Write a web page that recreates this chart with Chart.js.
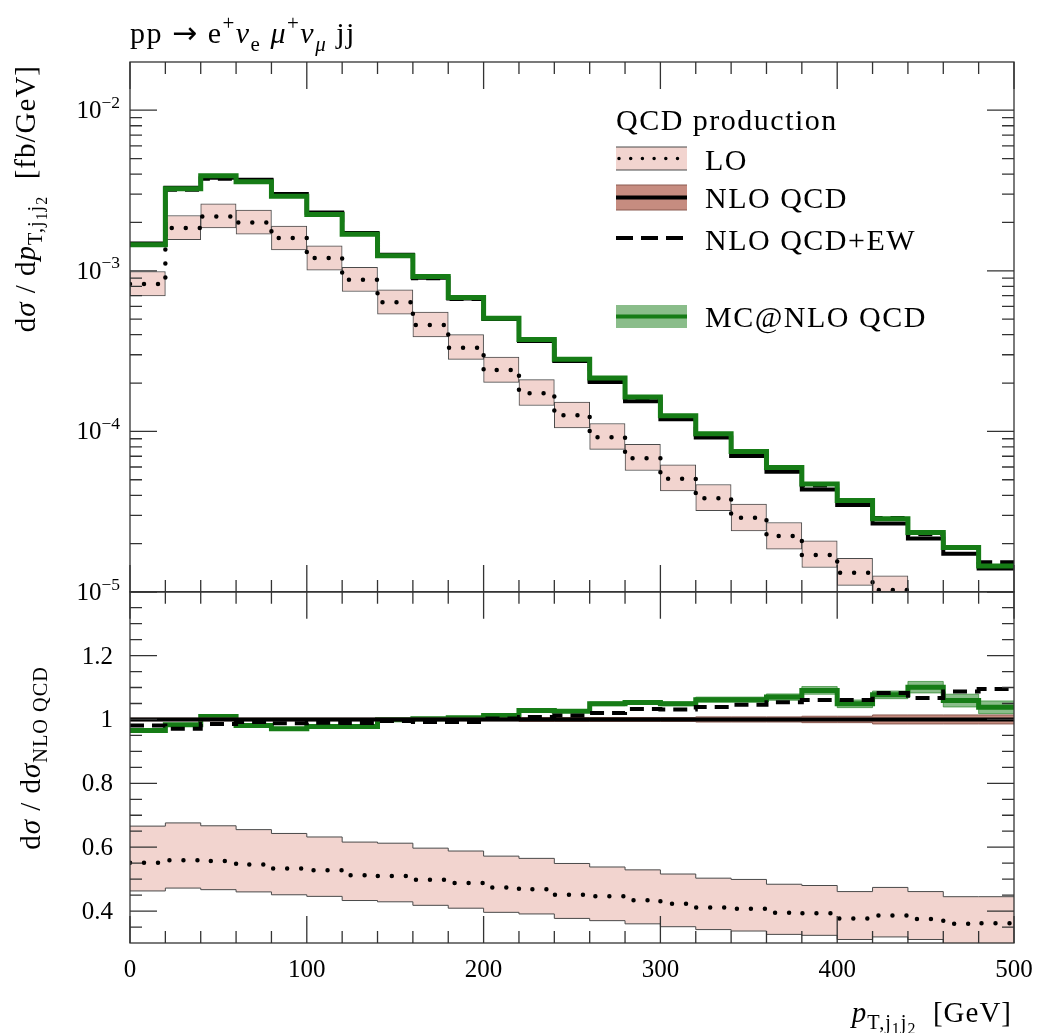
<!DOCTYPE html>
<html>
<head>
<meta charset="utf-8">
<script src="https://cdn.jsdelivr.net/npm/chart.js@4.4.1/dist/chart.umd.min.js"></script>
<style>
body{margin:0;background:#fff;}
#wrap{position:relative;width:1046px;height:1033px;}
#wrap canvas{position:absolute;left:0;top:0;}
</style>
</head>
<body>
<div id="wrap">
<canvas id="top" width="1046" height="1033"></canvas>
<canvas id="ratio" width="1046" height="1033"></canvas>
</div>
<script>
const FONT = '"Liberation Serif", "DejaVu Serif", serif';

/* bins in GeV */
const binEdges = [0, 20, 40, 60, 80, 100, 120, 140, 160, 180, 200, 220, 240, 260, 280, 300, 320, 340, 360, 380, 400, 420, 440, 460, 480, 500];

/* upper panel, dsigma/dpT [fb/GeV] */
const loCentral = [8.26e-4, 1.85e-3, 2.18e-3, 2.0e-3, 1.60e-3, 1.20e-3, 8.79e-4, 6.37e-4, 4.60e-4, 3.32e-4, 2.41e-4, 1.73e-4, 1.26e-4, 9.2e-5, 6.81e-5, 5.08e-5, 3.83e-5, 2.90e-5, 2.23e-5, 1.70e-5, 1.32e-5, 1.03e-5, 8.2e-6, 6.4e-6, 5.2e-6];
const loLow = [6.98e-4, 1.56e-3, 1.85e-3, 1.69e-3, 1.35e-3, 1.01e-3, 7.43e-4, 5.36e-4, 3.87e-4, 2.81e-4, 2.02e-4, 1.45e-4, 1.05e-4, 7.72e-5, 5.71e-5, 4.26e-5, 3.21e-5, 2.40e-5, 1.85e-5, 1.42e-5, 1.10e-5, 8.6e-6, 6.8e-6, 5.3e-6, 4.4e-6];
const loHigh = [9.9e-4, 2.21e-3, 2.61e-3, 2.39e-3, 1.90e-3, 1.43e-3, 1.05e-3, 7.6e-4, 5.54e-4, 4.0e-4, 2.90e-4, 2.10e-4, 1.52e-4, 1.12e-4, 8.3e-5, 6.19e-5, 4.67e-5, 3.53e-5, 2.71e-5, 2.08e-5, 1.62e-5, 1.26e-5, 1.0e-5, 8.0e-6, 6.5e-6];
const nloQcd = [1.48e-3, 3.29e-3, 3.80e-3, 3.69e-3, 3.01e-3, 2.31e-3, 1.72e-3, 1.26e-3, 9.04e-4, 6.73e-4, 5.01e-4, 3.65e-4, 2.74e-4, 2.03e-4, 1.54e-4, 1.19e-4, 9.17e-5, 7.03e-5, 5.60e-5, 4.34e-5, 3.48e-5, 2.67e-5, 2.15e-5, 1.73e-5, 1.40e-5];
const nloQcdEw = [1.452e-3, 3.195e-3, 3.747e-3, 3.660e-3, 2.974e-3, 2.287e-3, 1.701e-3, 1.254e-3, 8.97e-4, 6.68e-4, 5.03e-4, 3.68e-4, 2.77e-4, 2.07e-4, 1.59e-4, 1.23e-4, 9.53e-5, 7.35e-5, 5.90e-5, 4.60e-5, 3.69e-5, 2.89e-5, 2.29e-5, 1.88e-5, 1.53e-5];
const mcNlo = [1.45e-3, 3.24e-3, 3.91e-3, 3.58e-3, 2.91e-3, 2.24e-3, 1.69e-3, 1.24e-3, 9.2e-4, 6.81e-4, 5.06e-4, 3.74e-4, 2.81e-4, 2.15e-4, 1.64e-4, 1.25e-4, 9.68e-5, 7.50e-5, 5.96e-5, 4.71e-5, 3.71e-5, 2.86e-5, 2.35e-5, 1.89e-5, 1.45e-5];

/* lower panel, ratio to NLO QCD */
const ratioLo = [0.551, 0.559, 0.557, 0.546, 0.533, 0.528, 0.5125, 0.51, 0.498, 0.4875, 0.474, 0.468, 0.451, 0.446, 0.434, 0.423, 0.411, 0.407, 0.395, 0.393, 0.377, 0.386, 0.375, 0.36, 0.362];
const ratioLoLow = [0.463, 0.472, 0.467, 0.460, 0.451, 0.446, 0.433, 0.429, 0.418, 0.409, 0.396, 0.391, 0.377, 0.370, 0.360, 0.351, 0.342, 0.3375, 0.327, 0.324, 0.311, 0.319, 0.311, 0.297, 0.29];
const ratioLoHigh = [0.666, 0.676, 0.667, 0.655, 0.643, 0.632, 0.616, 0.6125, 0.597, 0.588, 0.572, 0.565, 0.549, 0.538, 0.529, 0.516, 0.503, 0.499, 0.484, 0.48, 0.461, 0.474, 0.461, 0.445, 0.445];
const ratioNlo = [1, 1, 1, 1, 1, 1, 1, 1, 1, 1, 1, 1, 1, 1, 1, 1, 1, 1, 1, 1, 1, 1, 1, 1, 1];
const ratioNloLow = [0.996, 0.996, 0.996, 0.996, 0.996, 0.996, 0.996, 0.996, 0.996, 0.996, 0.996, 0.994, 0.994, 0.994, 0.994, 0.994, 0.992, 0.992, 0.992, 0.99, 0.99, 0.986, 0.986, 0.986, 0.986];
const ratioNloHigh = [1.004, 1.004, 1.004, 1.004, 1.004, 1.004, 1.004, 1.004, 1.004, 1.004, 1.004, 1.006, 1.006, 1.006, 1.006, 1.006, 1.008, 1.008, 1.008, 1.01, 1.01, 1.014, 1.014, 1.014, 1.014];
const ratioEw = [0.981, 0.971, 0.986, 0.992, 0.988, 0.99, 0.989, 0.995, 0.992, 0.992, 1.003, 1.008, 1.0125, 1.02, 1.033, 1.031, 1.039, 1.046, 1.054, 1.061, 1.061, 1.083, 1.067, 1.0875, 1.095];
const ratioMc = [0.965, 0.983, 1.009, 0.981, 0.971, 0.978, 0.978, 0.999, 1.002, 1.005, 1.012, 1.028, 1.026, 1.049, 1.053, 1.049, 1.062, 1.062, 1.07, 1.091, 1.049, 1.077, 1.101, 1.059, 1.038];
const ratioMcLow = [0.961, 0.979, 1.005, 0.977, 0.967, 0.974, 0.974, 0.995, 0.998, 1.001, 1.008, 1.024, 1.022, 1.043, 1.047, 1.043, 1.054, 1.054, 1.060, 1.079, 1.037, 1.065, 1.083, 1.039, 1.018];
const ratioMcHigh = [0.969, 0.987, 1.013, 0.985, 0.975, 0.982, 0.982, 1.003, 1.006, 1.009, 1.016, 1.032, 1.030, 1.055, 1.059, 1.055, 1.070, 1.070, 1.080, 1.103, 1.061, 1.089, 1.119, 1.079, 1.058];

/* ticks */
const xTickValues = [0, 100, 200, 300, 400, 500];
const xTickLabels = ['0', '100', '200', '300', '400', '500'];
const logTickValues = [1e-5, 1e-4, 1e-3, 1e-2];
const logTickExponents = ['\u22125', '\u22124', '\u22123', '\u22122'];
const ratioTickValues = [0.4, 0.6, 0.8, 1.0, 1.2];
const ratioTickLabels = ['0.4', '0.6', '0.8', '1', '1.2'];

const PINK = '#f2d4cf';
const EDGE = '#4a4a4a';
const GREEN = '#167c16';
const GREEN_BAND = 'rgba(22,124,22,0.5)';
const BROWN = '#c68c80';

function steps(vals) {
  // one point per left bin edge, last value repeated at the right edge
  const pts = vals.map((v, i) => ({x: binEdges[i], y: v}));
  pts.push({x: binEdges[binEdges.length - 1], y: vals[vals.length - 1]});
  return pts;
}

function boxes(lo, hi) {
  return lo.map((v, i) => ({x: (binEdges[i] + binEdges[i + 1]) / 2, y: [v, hi[i]]}));
}

function stepLine(data, color, width, order, extra) {
  return Object.assign({
    type: 'line', data: data, borderColor: color, borderWidth: width,
    stepped: true, pointRadius: 0, fill: false, order: order, clip: 0,
    borderJoinStyle: 'miter'
  }, extra || {});
}

/* text with sub/superscripts */
function setFont(ctx, p, size, ls) {
  ctx.font = (p.it ? 'italic ' : '') + (size * (p.s || 1)) + 'px ' + (p.f || FONT);
  ctx.letterSpacing = (ls || 0) + 'px';
}
function richWidth(ctx, parts, size, ls) {
  let w = 0;
  parts.forEach(p => {
    setFont(ctx, p, size, ls);
    w += ctx.measureText(p.t).width;
  });
  ctx.letterSpacing = '0px';
  return w;
}
function drawRich(ctx, parts, x, y, size, ls) {
  let cx = x;
  parts.forEach(p => {
    setFont(ctx, p, size, ls);
    ctx.fillText(p.t, cx, y + (p.dy || 0) * size);
    cx += ctx.measureText(p.t).width;
  });
  ctx.letterSpacing = '0px';
}
function sub(t, it) { return {t: t, it: !!it, s: 0.7, dy: 0.25}; }
function subsub(t) { return {t: t, s: 0.55, dy: 0.4}; }
function sup(t) { return {t: t, s: 0.7, dy: -0.42}; }

function drawFrame(chart, yMajor, yMinor) {
  const {ctx, chartArea: a} = chart;
  const x = chart.scales.x, y = chart.scales.y;
  const big = 27, small = 12;
  ctx.save();
  ctx.strokeStyle = '#333';
  ctx.lineWidth = 1.3;
  ctx.strokeRect(a.left, a.top, a.right - a.left, a.bottom - a.top);
  ctx.beginPath();
  binEdges.forEach(e => {
    const px = x.getPixelForValue(e);
    const len = e % 100 === 0 ? big : small;
    ctx.moveTo(px, a.top); ctx.lineTo(px, a.top + len);
    ctx.moveTo(px, a.bottom); ctx.lineTo(px, a.bottom - len);
  });
  yMajor.forEach(v => {
    const py = y.getPixelForValue(v);
    ctx.moveTo(a.left, py); ctx.lineTo(a.left + big, py);
    ctx.moveTo(a.right, py); ctx.lineTo(a.right - big, py);
  });
  yMinor.forEach(v => {
    const py = y.getPixelForValue(v);
    ctx.moveTo(a.left, py); ctx.lineTo(a.left + small, py);
    ctx.moveTo(a.right, py); ctx.lineTo(a.right - small, py);
  });
  ctx.stroke();
  ctx.restore();
}

function legendText(ctx, t, x, y) {
  drawRich(ctx, [{t: t}], x, y, 30, 1.5);
}

function drawLegend(ctx) {
  const x0 = 616, x1 = 687, tx = 705;
  ctx.save();
  ctx.fillStyle = '#000';
  legendText(ctx, 'QCD production', 616, 130);

  // LO
  ctx.fillStyle = PINK;
  ctx.fillRect(x0, 147, x1 - x0, 23);
  ctx.strokeStyle = EDGE; ctx.lineWidth = 1;
  ctx.beginPath();
  ctx.moveTo(x0, 147); ctx.lineTo(x1, 147);
  ctx.moveTo(x0, 170); ctx.lineTo(x1, 170);
  ctx.stroke();
  ctx.strokeStyle = '#000'; ctx.lineWidth = 3.5; ctx.lineCap = 'round';
  ctx.setLineDash([0, 11.7]);
  ctx.beginPath(); ctx.moveTo(x0 + 3, 158.5); ctx.lineTo(x1, 158.5); ctx.stroke();
  ctx.setLineDash([]); ctx.lineCap = 'butt';
  ctx.fillStyle = '#000';
  legendText(ctx, 'LO', tx, 170);

  // NLO QCD
  ctx.fillStyle = BROWN;
  ctx.fillRect(x0, 185, x1 - x0, 25);
  ctx.strokeStyle = '#8a5a50'; ctx.lineWidth = 1;
  ctx.beginPath();
  ctx.moveTo(x0, 185); ctx.lineTo(x1, 185);
  ctx.moveTo(x0, 210); ctx.lineTo(x1, 210);
  ctx.stroke();
  ctx.strokeStyle = '#000'; ctx.lineWidth = 4;
  ctx.beginPath(); ctx.moveTo(x0, 197.5); ctx.lineTo(x1, 197.5); ctx.stroke();
  ctx.fillStyle = '#000';
  legendText(ctx, 'NLO QCD', tx, 208);

  // NLO QCD+EW
  ctx.setLineDash([17, 8]);
  ctx.beginPath(); ctx.moveTo(x0, 238); ctx.lineTo(x1, 238); ctx.stroke();
  ctx.setLineDash([]);
  legendText(ctx, 'NLO QCD+EW', tx, 250);

  // MC@NLO
  ctx.fillStyle = GREEN_BAND;
  ctx.fillRect(x0, 305, x1 - x0, 23);
  ctx.strokeStyle = GREEN; ctx.lineWidth = 4;
  ctx.beginPath(); ctx.moveTo(x0, 316.5); ctx.lineTo(x1, 316.5); ctx.stroke();
  ctx.fillStyle = '#000';
  legendText(ctx, 'MC@NLO QCD', tx, 327);
  ctx.restore();
}

const topDecor = {
  id: 'topDecor',
  afterDraw(chart) {
    const ctx = chart.ctx;
    const y = chart.scales.y;
    const minor = [];
    logTickValues.forEach(d => {
      for (let m = 2; m <= 9; m++) if (m * d < y.max) minor.push(m * d);
    });
    drawFrame(chart, logTickValues, minor);

    ctx.save();
    ctx.fillStyle = '#000';
    // y tick labels 10^n
    logTickValues.forEach((v, i) => {
      const py = y.getPixelForValue(v);
      const parts = [{t: '10'}, sup(logTickExponents[i])];
      const w = richWidth(ctx, parts, 25);
      drawRich(ctx, parts, 120 - w, py + 8, 25);
    });
    // title
    drawRich(ctx, [
      {t: 'pp '}, {t: '\u2192', f: '"DejaVu Sans"'}, {t: ' e'}, sup('+'), {t: '\u03bd', it: true}, sub('e'),
      {t: ' '}, {t: '\u03bc', it: true}, sup('+'), {t: '\u03bd', it: true}, sub('\u03bc', true),
      {t: ' jj'}
    ], 130, 43, 30, 1.5);
    // y title
    const yt = [
      {t: 'd'}, {t: '\u03c3', it: true}, {t: ' / d'}, {t: 'p', it: true},
      sub('T,j'), subsub('1'), sub('j'), subsub('2'), {t: '  [fb/GeV]'}
    ];
    const w = richWidth(ctx, yt, 29, 1);
    ctx.translate(35, 65 + w);
    ctx.rotate(-Math.PI / 2);
    drawRich(ctx, yt, 0, 0, 29, 1);
    ctx.restore();

    drawLegend(ctx);
  }
};

const ratioDecor = {
  id: 'ratioDecor',
  afterDraw(chart) {
    const ctx = chart.ctx;
    const x = chart.scales.x, y = chart.scales.y;
    const minor = [];
    for (let k = 7; k <= 27; k++) {
      if (k % 4 !== 0) minor.push(k * 0.05);
    }
    drawFrame(chart, ratioTickValues, minor);

    ctx.save();
    ctx.fillStyle = '#000';
    ctx.font = '25px ' + FONT;
    ctx.textAlign = 'right';
    ratioTickValues.forEach((v, i) => {
      ctx.fillText(ratioTickLabels[i], 113, y.getPixelForValue(v) + 8);
    });
    ctx.textAlign = 'center';
    xTickValues.forEach((v, i) => {
      ctx.fillText(xTickLabels[i], x.getPixelForValue(v), 977);
    });
    ctx.textAlign = 'left';
    // x title
    const xt = [{t: 'p', it: true}, sub('T,j'), subsub('1'), sub('j'), subsub('2'), {t: '  [GeV]'}];
    const wx = richWidth(ctx, xt, 29, 1);
    drawRich(ctx, xt, 1012 - wx, 1022, 29, 1);
    // y title
    const yt = [{t: 'd'}, {t: '\u03c3', it: true}, {t: ' / d'}, {t: '\u03c3', it: true}, sub('NLO QCD')];
    const wy = richWidth(ctx, yt, 29, 1);
    ctx.translate(40, 758 + wy / 2);
    ctx.rotate(-Math.PI / 2);
    drawRich(ctx, yt, 0, 0, 29, 1);
    ctx.restore();
  }
};

const xScale = {type: 'linear', min: 0, max: 500, display: false, offset: false, grid: {offset: false}};

new Chart(document.getElementById('top'), {
  type: 'line',
  data: {
    datasets: [
      {
        type: 'bar', data: boxes(loLow, loHigh), backgroundColor: PINK, borderColor: EDGE,
        borderWidth: 1, borderSkipped: false, barPercentage: 1, categoryPercentage: 1,
        grouped: false, order: 5, clip: 0
      },
      stepLine(steps(loCentral), '#000', 4.5, 4, {borderDash: [0, 14], borderCapStyle: 'round'}),
      stepLine(steps(nloQcd), '#000', 4, 3),
      stepLine(steps(nloQcdEw), '#000', 4, 2, {borderDash: [14, 8]}),
      stepLine(steps(mcNlo), GREEN, 5, 1)
    ]
  },
  options: {
    responsive: false,
    animation: false,
    layout: {padding: {left: 130, right: 32, top: 62, bottom: 441}},
    plugins: {legend: {display: false}, tooltip: {enabled: false}},
    scales: {
      x: Object.assign({}, xScale),
      y: {type: 'logarithmic', min: 1e-5, max: Math.pow(10, -1.7), display: false}
    }
  },
  plugins: [topDecor]
});

new Chart(document.getElementById('ratio'), {
  type: 'line',
  data: {
    datasets: [
      stepLine(steps(ratioLoLow), EDGE, 1, 10),
      stepLine(steps(ratioLoHigh), EDGE, 1, 11, {fill: '-1', backgroundColor: PINK}),
      stepLine(steps(ratioLo), '#000', 4.5, 9, {borderDash: [0, 14], borderCapStyle: 'round'}),
      stepLine(steps(ratioMcLow), 'rgba(22,124,22,0.6)', 1, 7),
      stepLine(steps(ratioMcHigh), 'rgba(22,124,22,0.6)', 1, 8, {fill: '-1', backgroundColor: GREEN_BAND}),
      stepLine(steps(ratioMc), GREEN, 5, 6),
      stepLine(steps(ratioNloLow), '#8a5a50', 1, 4),
      stepLine(steps(ratioNloHigh), '#8a5a50', 1, 5, {fill: '-1', backgroundColor: BROWN}),
      stepLine(steps(ratioNlo), '#000', 4, 3),
      stepLine(steps(ratioEw), '#000', 4, 2, {borderDash: [14, 8]})
    ]
  },
  options: {
    responsive: false,
    animation: false,
    layout: {padding: {left: 130, right: 32, top: 591.7, bottom: 90}},
    plugins: {legend: {display: false}, tooltip: {enabled: false}},
    scales: {
      x: Object.assign({}, xScale),
      y: {type: 'linear', min: 0.3, max: 1.4, display: false}
    }
  },
  plugins: [ratioDecor]
});
</script>
</body>
</html>
